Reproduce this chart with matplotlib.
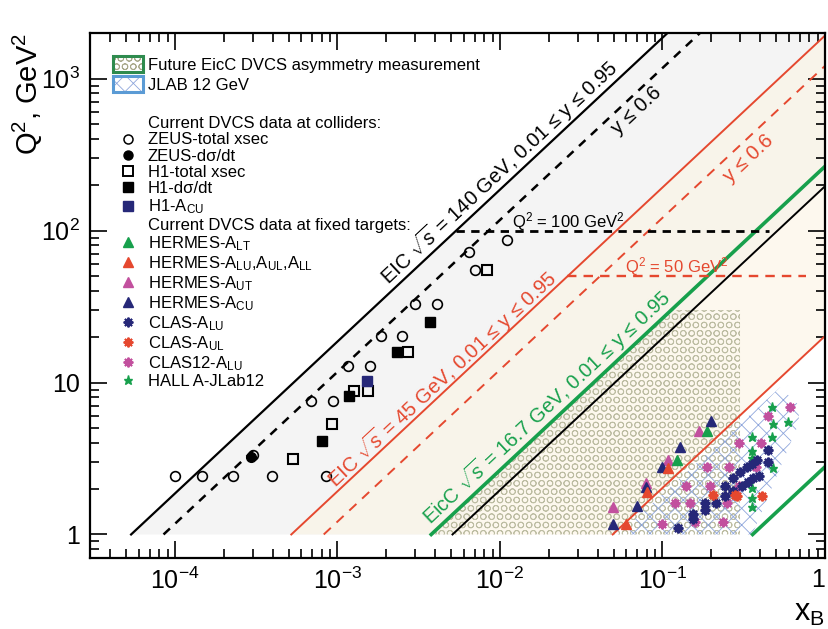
import matplotlib
matplotlib.use('Agg')
import matplotlib.pyplot as plt
from matplotlib.patches import Polygon, Patch
from matplotlib.lines import Line2D
from matplotlib.ticker import FixedLocator, LogLocator, NullFormatter
import numpy as np

plt.rcParams['font.family'] = ['Liberation Sans', 'DejaVu Sans']
plt.rcParams['mathtext.fontset'] = 'custom'
plt.rcParams['mathtext.rm'] = 'Liberation Sans'
plt.rcParams['mathtext.it'] = 'Liberation Sans:italic'
plt.rcParams['mathtext.bf'] = 'Liberation Sans:bold'
plt.rcParams['hatch.linewidth'] = 0.6

# ---- colours
black = '#000000'
red = '#e5482f'
green = '#17a04c'
magenta = '#c2509e'
navy = '#262878'
olive = '#bdbda3'
lblue = '#8ea6dc'

# ---- kinematic limits  Q2 = x * y * s
sqrt_s = [140, 45, 16.7]
y_max = 0.95
y_mid = 0.6
y_min = 0.01

# horizontal Q2 cuts
cut_q2 = [100, 50]
cut_x0 = [5.37e-3, 0.026]
cut_x1 = [0.45, 0.76]

# EicC asymmetry region
eicc_q2_top = 30
eicc_x_right = 0.3

# JLAB 12 GeV region
jlab_x = [0.0533, 0.53, 0.69, 0.69, 0.357]
jlab_q2 = [1.0, 9.3, 7.1, 5.4, 1.0]

# ---- collider data (x_B, Q2)
zeus_tot_x = [1.0e-4, 1.46e-4, 2.28e-4, 3.04e-4, 3.98e-4, 6.87e-4, 8.5e-4, 9.33e-4,
              1.16e-3, 1.59e-3, 1.86e-3, 2.49e-3, 3.01e-3, 4.11e-3, 6.43e-3, 7.0e-3, 1.1e-2]
zeus_tot_q2 = [2.42, 2.42, 2.42, 3.36, 2.42, 7.54, 2.42, 7.54,
               12.8, 12.8, 20.2, 20.2, 32.9, 32.9, 72.4, 55.4, 87.3]
zeus_dsig_x = [2.93e-4]
zeus_dsig_q2 = [3.24]
h1_tot_x = [5.3e-4, 9.27e-4, 1.27e-3, 1.55e-3, 2.73e-3, 8.32e-3]
h1_tot_q2 = [3.12, 5.37, 8.77, 8.86, 15.8, 55.4]
h1_dsig_x = [8.0e-4, 1.18e-3, 2.31e-3, 3.69e-3]
h1_dsig_q2 = [4.15, 8.13, 15.8, 25.2]
h1_acu_x = [1.51e-3]
h1_acu_q2 = [10.3]

# ---- fixed target data
hermes_alt_x = [0.122, 0.189]
hermes_alt_q2 = [3.07, 4.83]
hermes_alu_x = [0.0597, 0.0806, 0.108]
hermes_alu_q2 = [1.18, 1.89, 2.72]
hermes_aut_x = [0.0494, 0.0794, 0.108, 0.168]
hermes_aut_q2 = [1.51, 2.17, 3.07, 4.83]
hermes_acu_x = [0.0494, 0.0698, 0.0794, 0.100, 0.1285, 0.200]
hermes_acu_q2 = [1.18, 1.55, 2.04, 2.76, 3.74, 5.62]

clas_alu_x = [0.125, 0.155, 0.155, 0.183, 0.183, 0.214, 0.244, 0.273, 0.310, 0.338,
              0.363, 0.395, 0.244, 0.273, 0.301, 0.333, 0.357, 0.384, 0.449, 0.449]
clas_alu_q2 = [1.11, 1.37, 1.27, 1.62, 1.44, 1.62, 1.78, 1.92, 2.10, 2.23,
               2.34, 2.41, 2.10, 2.34, 2.56, 2.76, 2.89, 3.11, 3.62, 2.98]
clas_aul_x = [0.206, 0.281, 0.289, 0.407]
clas_aul_q2 = [1.81, 1.81, 1.78, 1.78]
clas12_alu_x = [0.100, 0.120, 0.140, 0.148, 0.159, 0.189, 0.197, 0.237, 0.251, 0.258,
                0.297, 0.297, 0.378, 0.401, 0.449, 0.605]
clas12_alu_q2 = [1.18, 1.60, 2.07, 1.60, 1.20, 2.80, 2.10, 1.20, 1.60, 2.80,
                 2.07, 4.03, 2.80, 4.03, 5.98, 6.95]
halla_x = [0.469, 0.596, 0.482, 0.357, 0.475, 0.357, 0.357, 0.482, 0.357, 0.357, 0.357]
halla_q2 = [6.95, 5.54, 5.37, 4.41, 4.35, 3.57, 3.21, 2.72, 2.01, 1.75, 1.51]

xticks = [1e-4, 1e-3, 1e-2, 1e-1, 1]
xticklabels = ['$10^{-4}$', '$10^{-3}$', '$10^{-2}$', '$10^{-1}$', '1']
yticks = [1, 10, 100, 1000]
yticklabels = ['1', '10', '$10^{2}$', '$10^{3}$']

fig = plt.figure(figsize=(8.29, 6.29), dpi=100)
ax = fig.add_axes([90/829, 71/629, 735/829, 525/629])
ax.set_xscale('log')
ax.set_yscale('log')
ax.set_xlim(3e-5, 1)
ax.set_ylim(0.7, 2000)


def q2line(s, y):
    # straight line Q2 = x y s from Q2 = 1 to x = 1
    return [1.0 / (y * s), 1.0], [1.0, y * s]


def band(s):
    xa, qa = q2line(s, y_max)
    xb, qb = q2line(s, y_min)
    return list(zip(xa + xb[::-1], qa + qb[::-1]))


s140, s45, s17 = [v ** 2 for v in sqrt_s]

# shaded acceptance bands
ax.add_patch(Polygon(band(s140), closed=True, facecolor='#f4f4f4', edgecolor='none', zorder=0))
ax.add_patch(Polygon(band(s45), closed=True, facecolor='#fcf4e4', edgecolor='none',
                     alpha=0.6, zorder=0.5))

# EicC region (circles)
eicc_poly = [(1.0 / (y_max * s17), 1.0), (eicc_q2_top / (y_max * s17), eicc_q2_top),
             (eicc_x_right, eicc_q2_top), (eicc_x_right, 1.0)]
ax.add_patch(Polygon(eicc_poly, closed=True, facecolor='none', edgecolor=olive,
                     hatch='OO', linewidth=0, zorder=1))
# JLAB region (cross hatch)
ax.add_patch(Polygon(list(zip(jlab_x, jlab_q2)), closed=True, facecolor='none',
                     edgecolor=lblue, hatch='xx', linewidth=0, zorder=1.2))

# kinematic lines
ax.plot(*q2line(s140, y_max), color=black, lw=1.6, zorder=2)
ax.plot(*q2line(s140, y_mid), color=black, lw=1.8, dashes=(3.5, 3), zorder=2)
ax.plot(*q2line(s140, y_min), color=black, lw=1.4, zorder=2)
ax.plot(*q2line(s45, y_max), color=red, lw=1.4, zorder=2)
ax.plot(*q2line(s45, y_mid), color=red, lw=1.4, dashes=(5, 4), zorder=2)
ax.plot(*q2line(s45, y_min), color=red, lw=1.4, zorder=2)
ax.plot(*q2line(s17, y_max), color=green, lw=2.6, zorder=2)
ax.plot(*q2line(s17, y_min), color=green, lw=2.6, zorder=2)

ax.plot([cut_x0[0], cut_x1[0]], [cut_q2[0]] * 2, color=black, lw=2.0, dashes=(3, 2.3), zorder=2)
ax.plot([cut_x0[1], cut_x1[1]], [cut_q2[1]] * 2, color=red, lw=1.7, dashes=(4, 3), zorder=2)

# data points
ms = 7
ax.plot(zeus_tot_x, zeus_tot_q2, 'o', ms=ms, mfc='none', mec=black, mew=1.2, zorder=3)
ax.plot(zeus_dsig_x, zeus_dsig_q2, 'o', ms=ms, color=black, zorder=3)
ax.plot(h1_tot_x, h1_tot_q2, 's', ms=ms, mfc='none', mec=black, mew=1.5, zorder=3)
ax.plot(h1_dsig_x, h1_dsig_q2, 's', ms=ms, color=black, zorder=3)
ax.plot(h1_acu_x, h1_acu_q2, 's', ms=ms, color=navy, zorder=3)

ax.plot(hermes_aut_x, hermes_aut_q2, '^', ms=7.5, color=magenta, zorder=3)
ax.plot(hermes_alt_x, hermes_alt_q2, '^', ms=7.5, color=green, zorder=3)
ax.plot(hermes_acu_x, hermes_acu_q2, '^', ms=7.5, color=navy, zorder=3)
ax.plot(hermes_alu_x, hermes_alu_q2, '^', ms=7.5, color=red, zorder=3)

star = (8, 2, 0)
ax.plot(clas12_alu_x, clas12_alu_q2, ls='none', marker=star, ms=7, mec=magenta, mew=1.4, zorder=3)
ax.plot(halla_x, halla_q2, '*', ms=6.5, color=green, zorder=3)
ax.plot(clas_alu_x, clas_alu_q2, ls='none', marker=star, ms=7, mec=navy, mew=1.6, zorder=3)
ax.plot(clas_aul_x, clas_aul_q2, ls='none', marker=star, ms=7, mec=red, mew=1.6, zorder=3)

# rotated line labels
p0 = ax.transData.transform((1e-3, 1.0))
p1 = ax.transData.transform((1e-2, 10.0))
ang = np.degrees(np.arctan2(p1[1] - p0[1], p1[0] - p0[0]))
tk = dict(rotation=ang, rotation_mode='anchor', ha='center', va='center', fontsize=14.5, zorder=4)
ax.text(0.0099, 244, r'EIC $\sqrt{s}$ = 140 GeV, 0.01 ≤ y ≤ 0.95', color=black, **tk)
ax.text(0.0689, 616, 'y ≤ 0.6', color=black, **tk)
ax.text(4.4e-3, 10.5, r'EIC $\sqrt{s}$ = 45 GeV, 0.01 ≤ y ≤ 0.95', color=red, **tk)
ax.text(0.338, 298, 'y ≤ 0.6', color=red, **tk)
ax.text(0.0192, 6.85, r'EicC $\sqrt{s}$ = 16.7 GeV, 0.01 ≤ y ≤ 0.95', color=green, **tk)
ax.text(0.0262, 115, r'Q$^2$ = 100 GeV$^2$', color=black, fontsize=12, ha='center', va='center', zorder=4)
ax.text(0.1217, 58, r'Q$^2$ = 50 GeV$^2$', color=red, fontsize=12, ha='center', va='center', zorder=4)

# axes styling
for sp in ax.spines.values():
    sp.set_linewidth(1.6)
ax.xaxis.set_major_locator(FixedLocator(xticks))
ax.set_xticklabels(xticklabels)
ax.yaxis.set_major_locator(FixedLocator(yticks))
ax.set_yticklabels(yticklabels)
ax.xaxis.set_minor_locator(LogLocator(base=10, subs=np.arange(2, 10), numticks=20))
ax.yaxis.set_minor_locator(LogLocator(base=10, subs=np.arange(2, 10), numticks=20))
ax.xaxis.set_minor_formatter(NullFormatter())
ax.yaxis.set_minor_formatter(NullFormatter())
ax.tick_params(which='both', direction='in', top=True, right=True, width=1.2, labelsize=18)
ax.tick_params(which='major', length=12, pad=7)
ax.tick_params(which='minor', length=6.5)
# keep the last x label inside the picture
ax.get_xticklabels()[-1].set_horizontalalignment('right')

fig.text(28/829, 1 - 33/629, r'Q$^2$, GeV$^2$', rotation=90, fontsize=21, ha='center', va='top')
fig.text(825/829, 1 - 628/629, r'x$_{\rm B}$', fontsize=22, ha='right', va='bottom')

# legends
h_eicc = (Patch(facecolor='white', edgecolor='#a8a88a', hatch='OO', lw=0),
          Patch(facecolor='none', edgecolor='#2e8b4e', lw=2.2))
h_jlab = (Patch(facecolor='white', edgecolor=lblue, hatch='xx', lw=0),
          Patch(facecolor='none', edgecolor='#5b9bd5', lw=2.2))
leg1 = ax.legend([h_eicc, h_jlab], ['Future EicC DVCS asymmetry measurement', 'JLAB 12 GeV'],
                 loc='upper left', bbox_to_anchor=(23/735, (558-56)/525), frameon=False,
                 fontsize=12, handlelength=1.8, handleheight=1.1, handletextpad=0.3,
                 labelspacing=0.2, borderpad=0, borderaxespad=0)
ax.add_artist(leg1)

blank = Line2D([], [], ls='none')
handles = [blank,
           Line2D([], [], ls='none', marker='o', ms=6.5, mfc='none', mec=black, mew=1.1),
           Line2D([], [], ls='none', marker='o', ms=6.5, color=black),
           Line2D([], [], ls='none', marker='s', ms=6.5, mfc='none', mec=black, mew=1.4),
           Line2D([], [], ls='none', marker='s', ms=6.5, color=black),
           Line2D([], [], ls='none', marker='s', ms=6.5, color=navy),
           blank,
           Line2D([], [], ls='none', marker='^', ms=7, color=green),
           Line2D([], [], ls='none', marker='^', ms=7, color=red),
           Line2D([], [], ls='none', marker='^', ms=7, color=magenta),
           Line2D([], [], ls='none', marker='^', ms=7, color=navy),
           Line2D([], [], ls='none', marker=star, ms=7, mec=navy, mew=1.4),
           Line2D([], [], ls='none', marker=star, ms=7, mec=red, mew=1.4),
           Line2D([], [], ls='none', marker=star, ms=7, mec=magenta, mew=1.4),
           Line2D([], [], ls='none', marker='*', ms=6.5, color=green)]
labels = ['Current DVCS data at colliders:', 'ZEUS-total xsec', 'ZEUS-dσ/dt', 'H1-total xsec',
          'H1-dσ/dt', r'H1-A$_{\rm CU}$', 'Current DVCS data at fixed targets:',
          r'HERMES-A$_{\rm LT}$', r'HERMES-A$_{\rm LU}$,A$_{\rm UL}$,A$_{\rm LL}$',
          r'HERMES-A$_{\rm UT}$', r'HERMES-A$_{\rm CU}$', r'CLAS-A$_{\rm LU}$',
          r'CLAS-A$_{\rm UL}$', r'CLAS12-A$_{\rm LU}$', 'HALL A-JLab12']
ax.legend(handles, labels, loc='upper left', bbox_to_anchor=(23/735, (558-116)/525),
          frameon=False, fontsize=12, handlelength=1.8, handletextpad=0.3, numpoints=1,
          labelspacing=0.08, borderpad=0, borderaxespad=0)

fig.savefig('out.png', dpi=100)
